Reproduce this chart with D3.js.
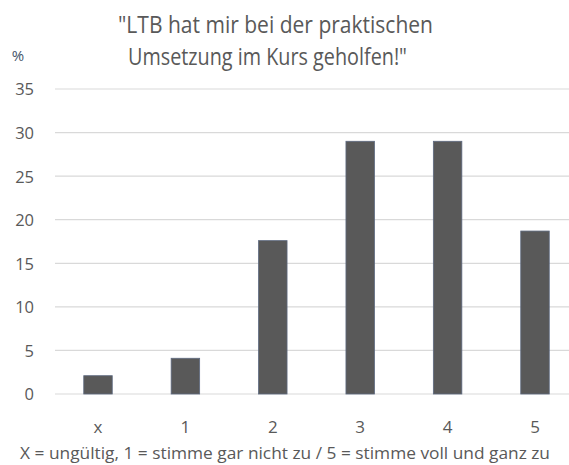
<!DOCTYPE html>
<html><head><meta charset="utf-8">
<script src="https://cdn.jsdelivr.net/npm/d3@7"></script>
<style>body{margin:0;background:#fff}svg{display:block}</style>
</head><body>
<script>
const categories = ["x","1","2","3","4","5"];
const values = [2.1, 4.1, 17.6, 29.0, 29.0, 18.7];
const yTicks = [0,5,10,15,20,25,30,35];
const titleLines = ["\"LTB hat mir bei der praktischen", "Umsetzung im Kurs geholfen!\""];
const unitLabel = "%";
const footer = "X = ungültig, 1 = stimme gar nicht zu / 5 = stimme voll und ganz zu";

const W = 569, H = 465;
const font = "'Open Sans', 'Noto Sans', sans-serif";
const svg = d3.select("body").append("svg").attr("width", W).attr("height", H);

const x = d3.scaleBand().domain(categories).range([54.3, 578.7]).paddingInner(0.674).paddingOuter(0.337);
const y = d3.scaleLinear().domain([0, 35]).range([394, 89]);

// gridlines
svg.append("g").selectAll("line").data(yTicks).join("line")
  .attr("x1", 55).attr("x2", W)
  .attr("y1", d => y(d)).attr("y2", d => y(d))
  .attr("stroke", "#d9d9d9").attr("stroke-width", 1.2);

// y axis labels
const yAxis = d3.axisLeft(y).tickValues(yTicks).tickSize(0).tickPadding(0);
const ga = svg.append("g").attr("transform", "translate(34,0)").call(yAxis);
ga.select(".domain").remove();
ga.selectAll("text").attr("font-family", font).attr("font-size", 16.5).attr("fill", "#595959").attr("dy", "0.36em");

// bars
svg.append("g").selectAll("rect").data(values).join("rect")
  .attr("x", (d, i) => x(categories[i]))
  .attr("width", x.bandwidth())
  .attr("y", d => y(d))
  .attr("height", d => y(0) - y(d))
  .attr("fill", "#595959").attr("stroke", "#5e6a80").attr("stroke-width", 0.8);

// x axis labels
const xAxis = d3.axisBottom(x).tickSize(0).tickPadding(0);
const gx = svg.append("g").attr("transform", "translate(0,433)").call(xAxis);
gx.select(".domain").remove();
gx.selectAll("text").attr("font-family", font).attr("font-size", 17).attr("fill", "#595959").attr("dy", 0);

// title
svg.append("g").selectAll("text").data(titleLines).join("text")
  .attr("x", (d, i) => i === 0 ? 275.5 : 267.5)
  .attr("y", (d, i) => i === 0 ? 33 : 65)
  .attr("text-anchor", "middle")
  .attr("font-family", font).attr("font-size", 23).attr("fill", "#595959")
  .attr("textLength", (d, i) => i === 0 ? 315 : 279)
  .attr("lengthAdjust", "spacingAndGlyphs")
  .text(d => d);

// unit label
svg.append("text").attr("x", 18).attr("y", 61).attr("text-anchor", "middle")
  .attr("font-family", font).attr("font-size", 15).attr("fill", "#44546a").text(unitLabel);

// footer
svg.append("text").attr("x", 285).attr("y", 459).attr("text-anchor", "middle")
  .attr("font-family", font).attr("font-size", 17).attr("fill", "#595959")
  .attr("textLength", 530).attr("lengthAdjust", "spacingAndGlyphs")
  .text(footer);
</script>
</body></html>
